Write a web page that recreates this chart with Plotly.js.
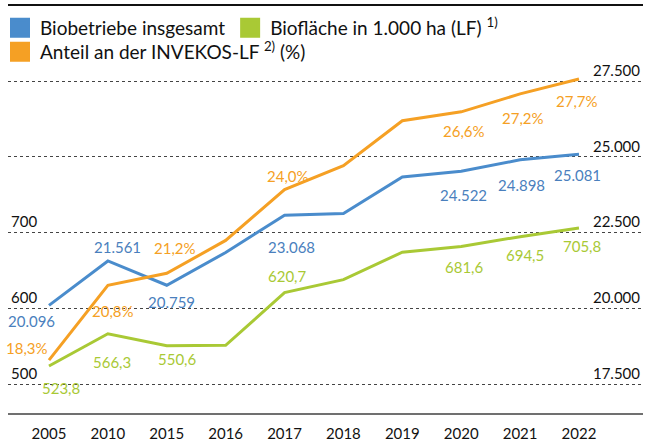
<!DOCTYPE html>
<html>
<head>
<meta charset="utf-8">
<script src="https://cdn.plot.ly/plotly-3.0.1.min.js"></script>
<style>html,body{margin:0;padding:0;background:#fff;}#chart{width:646px;height:443px;}</style>
</head>
<body>
<div id="chart"></div>
<script>
const years = ['2005','2010','2015','2016','2017','2018','2019','2020','2021','2022'];
const betriebe = [20096, 21561, 20759, 21840, 23068, 23130, 24330, 24522, 24898, 25081];
const flaeche = [523.8, 566.3, 550.6, 551.0, 620.7, 637.8, 674.0, 681.6, 694.5, 705.8];
const anteil = [18.3, 20.8, 21.2, 22.3, 24.0, 24.8, 26.3, 26.6, 27.2, 27.7];
const leftTicks = [500, 600, 700];
const rightTicks = [17500, 20000, 22500, 25000, 27500];
const rightTickText = ['17.500', '20.000', '22.500', '25.000', '27.500'];
const names = ['Biobetriebe insgesamt', 'Biofläche in 1.000 ha (LF) <sup>1)</sup>', 'Anteil an der INVEKOS-LF <sup>2)</sup> (%)'];
const labeled = [0, 1, 2, 4, 7, 8, 9];

const cBlue = '#4a8ccc', cGreen = '#a9c935', cOrange = '#f5a024';
const tBlue = '#4a7fbd', tGreen = '#a9c935', tOrange = '#f5a024';

const offB = {0:[-17,-16],1:[10,14],2:[5,-17],4:[7,-32],7:[2,-24],8:[1,-25],9:[-1,-21]};
const offG = {0:[12,-22],1:[4,-28],2:[11,-13],4:[3,17],7:[3,-21],8:[5,-18],9:[3,-18]};
const offO = {0:[-22,12],1:[5,-26],2:[8,25],4:[3,14],7:[3,-19],8:[3,-24],9:[-2,-22]};

const fmtB = v => { const s = String(v); return s.slice(0, s.length-3) + '.' + s.slice(-3); };
const fmtD = v => v.toFixed(1).replace('.', ',');

const FONT = 'Lato, "Open Sans", sans-serif';

const traces = [
  {x: years, y: betriebe, yaxis: 'y2', mode: 'lines', line: {color: cBlue, width: 3}, showlegend: false, hoverinfo: 'skip'},
  {x: years, y: flaeche, yaxis: 'y', mode: 'lines', line: {color: cGreen, width: 3}, showlegend: false, hoverinfo: 'skip'},
  {x: years, y: anteil, yaxis: 'y3', mode: 'lines', line: {color: cOrange, width: 3}, showlegend: false, hoverinfo: 'skip'},
  {x: [null], y: [null], mode: 'markers', name: names[0], legend: 'legend', marker: {symbol: 'square', size: 16, color: cBlue, line: {color: cBlue, width: 4}}},
  {x: [null], y: [null], mode: 'markers', name: names[1], legend: 'legend', marker: {symbol: 'square', size: 16, color: cGreen, line: {color: cGreen, width: 4}}},
  {x: [null], y: [null], mode: 'markers', name: names[2], legend: 'legend2', marker: {symbol: 'square', size: 16, color: cOrange, line: {color: cOrange, width: 4}}}
];

const annotations = [];
labeled.forEach(i => {
  annotations.push({x: i, y: betriebe[i], xref: 'x', yref: 'y2', text: fmtB(betriebe[i]), showarrow: false,
    xshift: offB[i][0], yshift: offB[i][1], font: {family: FONT, size: 15, color: tBlue}});
  annotations.push({x: i, y: flaeche[i], xref: 'x', yref: 'y', text: fmtD(flaeche[i]), showarrow: false,
    xshift: offG[i][0], yshift: offG[i][1], font: {family: FONT, size: 15, color: tGreen}});
  annotations.push({x: i, y: anteil[i], xref: 'x', yref: 'y3', text: fmtD(anteil[i]) + '%', showarrow: false,
    xshift: offO[i][0], yshift: offO[i][1], font: {family: FONT, size: 15, color: tOrange}});
});

const legendBase = {orientation: 'h', xref: 'container', yref: 'container', x: 0.0, xanchor: 'left', yanchor: 'top',
  bgcolor: 'rgba(0,0,0,0)', font: {family: FONT, size: 19, color: '#111'}};

const layout = {
  width: 646, height: 443,
  margin: {l: 8, r: 3, t: 55, b: 30, autoexpand: false},
  paper_bgcolor: '#fff', plot_bgcolor: '#fff',
  font: {family: FONT, size: 15, color: '#111'},
  showlegend: true,
  legend: Object.assign({}, legendBase, {y: 0.98}),
  legend2: Object.assign({}, legendBase, {y: 0.926}),
  xaxis: {type: 'category', range: [-0.696, 10.087], showgrid: false, zeroline: false, showline: true,
    linecolor: '#707070', linewidth: 2, ticks: '', ticklabelstandoff: 6, tickfont: {family: FONT, size: 15, color: '#111'}},
  yaxis: {range: [461.7, 934.3], tickvals: leftTicks, showgrid: false, zeroline: false, showline: false,
    ticks: '', ticklabelposition: 'inside top', tickfont: {family: FONT, size: 15, color: '#111'}},
  yaxis2: {overlaying: 'y', side: 'right', range: [16543, 28358], tickvals: rightTicks, ticktext: rightTickText,
    showgrid: true, gridcolor: '#444', griddash: 'dot', gridwidth: 1, zeroline: false, showline: false, ticks: '',
    ticklabelposition: 'inside top', tickfont: {family: FONT, size: 15, color: '#111'}},
  yaxis3: {overlaying: 'y', range: [16.53, 28.5], showgrid: false, zeroline: false, showticklabels: false, ticks: '', showline: false},
  shapes: [{type: 'line', xref: 'paper', yref: 'paper', layer: 'above', x0: 0, x1: 1, y0: 1.1397, y1: 1.1397, line: {color: '#111', width: 2}}],
  annotations: annotations
};

Plotly.newPlot('chart', traces, layout, {staticPlot: true});
</script>
</body>
</html>
